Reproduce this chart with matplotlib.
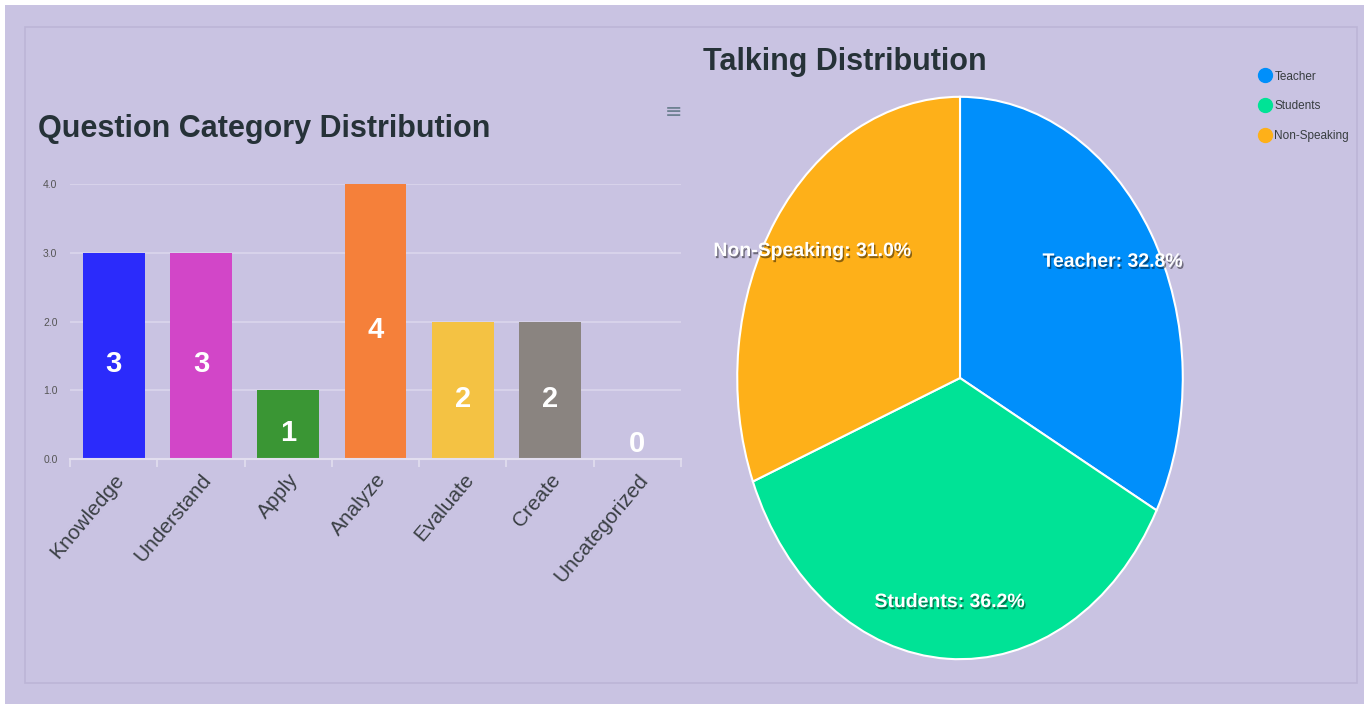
import matplotlib
matplotlib.use("Agg")
import matplotlib.pyplot as plt
import matplotlib.patheffects as pe
from matplotlib.patches import Rectangle
from matplotlib.lines import Line2D

# data
categories = ['Knowledge', 'Understand', 'Apply', 'Analyze', 'Evaluate', 'Create', 'Uncategorized']
counts = [3, 3, 1, 4, 2, 2, 0]
bar_colors = ['#2b2bfb', '#d246c8', '#3a9634', '#f5803a', '#f4c243', '#8a8480', '#8a8480']
y_ticks = [0.0, 1.0, 2.0, 3.0, 4.0]

talk_labels = ['Teacher', 'Students', 'Non-Speaking']
talk_pct = [32.8, 36.2, 31.0]
talk_colors = ['#008ffb', '#00e396', '#feb019']

BG = '#c9c3e2'
W, H = 1364, 704
font = ['Liberation Sans', 'DejaVu Sans']

fig = plt.figure(figsize=(W / 100, H / 100), dpi=100, facecolor=BG)

# card frame and white strips
fig.add_artist(Rectangle((25 / W, 1 - 683 / H), 1332 / W, 656 / H, transform=fig.transFigure,
                         facecolor='none', edgecolor='#bcb5d6', lw=1.2))
fig.add_artist(Rectangle((0, 0), 5 / W, 1, transform=fig.transFigure, facecolor='white', lw=0))
fig.add_artist(Rectangle((0, 1 - 5 / H), 1, 5 / H, transform=fig.transFigure, facecolor='white', lw=0))

# ---- bar chart ----
ax = fig.add_axes([70 / W, 1 - 459 / H, 611 / W, 275 / H])
ax.set_facecolor(BG)
x = list(range(len(categories)))
ax.bar(x, counts, width=0.71, color=bar_colors, zorder=2)
ax.set_xlim(-0.5, len(categories) - 0.5)
ax.set_ylim(0, 4)
ax.set_yticks(y_ticks)
ax.set_yticklabels([f'{v:.1f}' for v in y_ticks], fontsize=7.5, color='#555555', family=font)
ax.tick_params(axis='y', length=0, pad=9)
ax.grid(axis='y', color='#dad6ec', lw=1.2, zorder=0)
for s in ['top', 'right', 'left']:
    ax.spines[s].set_visible(False)
ax.spines['bottom'].set_color('#e2deef')
ax.spines['bottom'].set_linewidth(1.5)
ax.set_xticks(x)
ax.set_xticklabels(categories, rotation=50, ha='right', rotation_mode='anchor',
                   fontsize=15, color='#3a3f44', family=font)
ax.tick_params(axis='x', length=0, pad=8)
ax.set_xticks([i - 0.5 for i in range(len(categories) + 1)], minor=True)
ax.tick_params(axis='x', which='minor', length=6, color='#e2deef', width=1.2)

for xi, v in zip(x, counts):
    if v == 0:
        ax.annotate(str(v), (xi, 0), xytext=(0, 1), textcoords='offset points', ha='center',
                    va='bottom', color='white', fontsize=21, fontweight='bold', family=font)
    else:
        ax.annotate(str(v), (xi, v / 2), xytext=(0, -6), textcoords='offset points', ha='center',
                    va='center', color='white', fontsize=21, fontweight='bold', family=font)

fig.text(38 / W, 1 - 137 / H, 'Question Category Distribution', fontsize=22, fontweight='bold',
         color='#263238', family=font, va='baseline')
fig.text(674 / W, 1 - 112 / H, '≡', fontsize=15, color='#6e8192', ha='center', va='center',
         family=['DejaVu Sans'])

# ---- pie chart ----
pax = fig.add_axes([735 / W, 1 - 662 / H, 450 / W, 568 / H])
wedges, texts = pax.pie(talk_pct, colors=talk_colors, startangle=90, counterclock=False,
                        labels=[f'{l}: {p:.1f}%' for l, p in zip(talk_labels, talk_pct)],
                        labeldistance=0.8, wedgeprops=dict(edgecolor='white', linewidth=1.5))
pax.set_aspect('auto')
pax.set_xlim(-1.01, 1.01)
pax.set_ylim(-1.01, 1.01)
for t in texts:
    t.set_ha('center')
    t.set_va('center')
    t.set_color('white')
    t.set_fontsize(14)
    t.set_fontweight('bold')
    t.set_family(font)
    t.set_path_effects([pe.SimplePatchShadow(offset=(1, -1.5), shadow_rgbFace='black', alpha=0.45),
                        pe.Normal()])

fig.text(703 / W, 1 - 70 / H, 'Talking Distribution', fontsize=22, fontweight='bold',
         color='#263238', family=font, va='baseline')

handles = [Line2D([], [], marker='o', ls='none', markersize=10, markerfacecolor=c,
                  markeredgecolor=c) for c in talk_colors]
fig.legend(handles, talk_labels, loc='upper left', bbox_to_anchor=(1246 / W, 1 - 60 / H),
           frameon=False, labelcolor='#373d3f', handletextpad=0.0,
           handlelength=1.5, labelspacing=1.5, prop={'family': font, 'size': 8.5})

fig.savefig('out.png', dpi=100, facecolor=BG)
